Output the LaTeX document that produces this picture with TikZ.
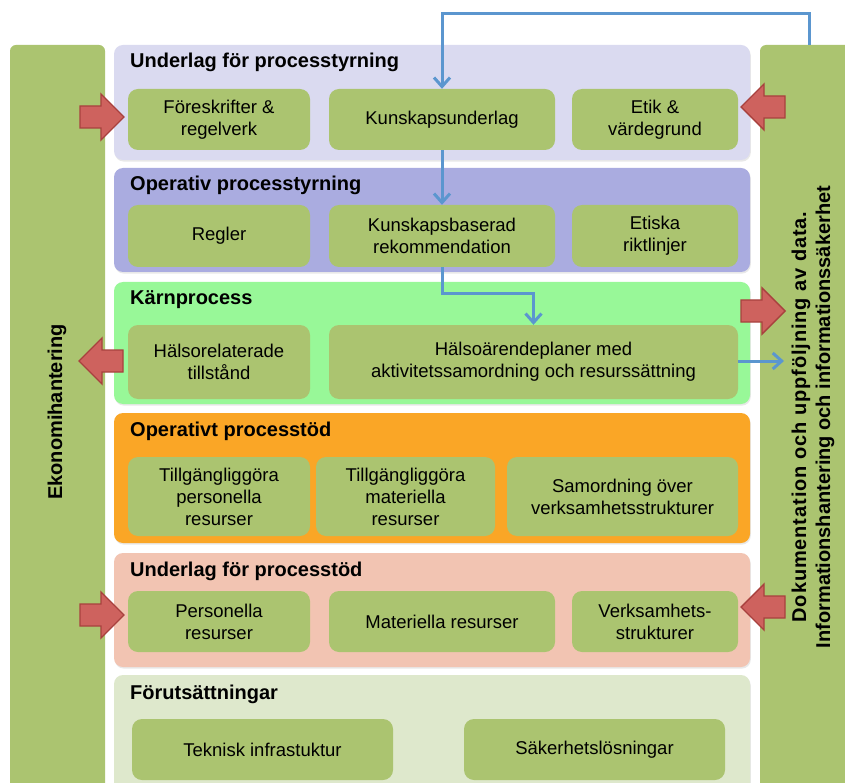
\documentclass[tikz,border=0pt]{standalone}
\usepackage{fontspec}
\setmainfont{Liberation Sans}
\usetikzlibrary{arrows.meta,shadows}

\definecolor{barGreen}{HTML}{ABC470}
\definecolor{boxGreen}{HTML}{ABC470}
\definecolor{bandA}{HTML}{DADAF0}
\definecolor{bandB}{HTML}{AAACE0}
\definecolor{bandC}{HTML}{98F898}
\definecolor{bandD}{HTML}{FAA626}
\definecolor{bandE}{HTML}{F2C4B2}
\definecolor{bandF}{HTML}{DEE8CC}
\definecolor{arrowRed}{HTML}{CE625E}
\definecolor{arrowEdge}{HTML}{A8413E}
\definecolor{flowBlue}{HTML}{5B96CF}

\tikzset{
  band/.style={rounded corners=9pt, drop shadow={shadow xshift=0.8pt, shadow yshift=-1.6pt, opacity=0.18}},
  box/.style={fill=boxGreen, rounded corners=10pt, align=center, inner sep=0pt,
              font=\fontsize{18.5}{22}\selectfont},
  bandtitle/.style={anchor=base west, inner sep=0pt, font=\fontsize{20}{24}\selectfont\bfseries},
  bartext/.style={rotate=90, inner sep=0pt, font=\fontsize{20}{24}\selectfont\bfseries},
  % block arrow with its tip at the origin, pointing along +x
  blockarrow/.pic={
    \draw[arrowEdge, fill=arrowRed, line width=1.4pt, line join=miter]
      (0,0) -- (-23,-23) -- (-23,-11) -- (-44,-11) -- (-44,11) -- (-23,11) -- (-23,23) -- cycle;
  },
  flow/.style={draw=flowBlue, line width=3pt, -{Straight Barb[length=9pt,width=16pt]}}
}

\begin{document}
\begin{tikzpicture}[x=1pt,y=-1pt]
\useasboundingbox (0,0) rectangle (845,783);
\fill[white] (0,0) rectangle (845,783);

% side bars
\fill[barGreen, rounded corners=6pt] (10,45) rectangle (105,810);
\fill[barGreen, rounded corners=6pt] (760,45) rectangle (870,810);
\node[bartext] (econ) at (57,412) {Ekonomihantering};
\node[bartext, align=center] (docu) at (813,417)
  {\addfontfeature{LetterSpace=4.5}Dokumentation och uppföljning av data.\\Informationshantering och informationssäkerhet};

% horizontal bands
\fill[bandA, band] (114,45) rectangle (750,160);
\fill[bandB, band] (114,168) rectangle (750,272);
\fill[bandC, band] (114,282) rectangle (750,404);
\fill[bandD, band] (114,413) rectangle (750,543);
\fill[bandE, band] (114,553) rectangle (750,667);
\fill[bandF, band] (114,675) rectangle (750,810);

\node[bandtitle] (tA) at (130,68)  {Underlag för processtyrning};
\node[bandtitle] (tB) at (130,191) {Operativ processtyrning};
\node[bandtitle] (tC) at (130,305) {Kärnprocess};
\node[bandtitle] (tD) at (130,436) {Operativt processtöd};
\node[bandtitle] (tE) at (130,576) {Underlag för processtöd};
\node[bandtitle] (tF) at (130,699) {Förutsättningar};

% boxes: process governance basis
\node[box, minimum width=182, minimum height=61] (fores) at (219,119.5) {Föreskrifter \&\\regelverk};
\node[box, minimum width=226, minimum height=61] (kun)   at (442,119.5) {Kunskapsunderlag};
\node[box, minimum width=166, minimum height=61] (etik)  at (655,119.5) {Etik \&\\värdegrund};
% operative governance
\node[box, minimum width=182, minimum height=62] (regler) at (219,236) {Regler};
\node[box, minimum width=226, minimum height=62] (kb)     at (442,236) {Kunskapsbaserad\\rekommendation};
\node[box, minimum width=166, minimum height=62] (etiska) at (655,236) {Etiska\\riktlinjer};
% core process
\node[box, minimum width=182, minimum height=74] (halso) at (219,362)   {Hälsorelaterade\\tillstånd};
\node[box, minimum width=409, minimum height=74] (hp)    at (533.5,362) {Hälsoärendeplaner med\\aktivitetssamordning och resurssättning};
% operative support
\node[box, minimum width=182, minimum height=79] (tper) at (219,496.5)   {Tillgängliggöra\\personella\\resurser};
\node[box, minimum width=179, minimum height=79] (tmat) at (405.5,496.5) {Tillgängliggöra\\materiella\\resurser};
\node[box, minimum width=231, minimum height=79] (samo) at (622.5,496.5) {Samordning över\\verksamhetsstrukturer};
% support basis
\node[box, minimum width=182, minimum height=61] (pers) at (219,621.5) {Personella\\resurser};
\node[box, minimum width=226, minimum height=61] (mat)  at (442,621.5) {Materiella resurser};
\node[box, minimum width=166, minimum height=61] (verk) at (655,621.5) {Verksamhets-\\strukturer};
% prerequisites
\node[box, minimum width=261, minimum height=61] (tek) at (262.5,749.5) {Teknisk infrastuktur};
\node[box, minimum width=261, minimum height=61] (sak) at (594.5,749.5) {Säkerhetslösningar};

% information flow
\coordinate (docTop) at (809,45);
\coordinate (docIn)  at (784,361);
\draw[flow] (docTop) -- ++(0,-31) -| (kun.north);
\draw[flow] (kun.south) -- (kb.north);
\draw[flow] (kb.south) -- ++(0,26) -| (hp.north);
\draw[flow] (hp.east |- docIn) -- (docIn);

% block arrows to and from the side bars
\pic (inA)  at (124,117) {blockarrow};
\pic[rotate=180] (inB)  at (741,107) {blockarrow};
\pic[rotate=180] (outA) at (79,361)  {blockarrow};
\pic (outB) at (785,311) {blockarrow};
\pic (inC)  at (124,615) {blockarrow};
\pic[rotate=180] (inD)  at (741,607) {blockarrow};
\end{tikzpicture}
\end{document}
